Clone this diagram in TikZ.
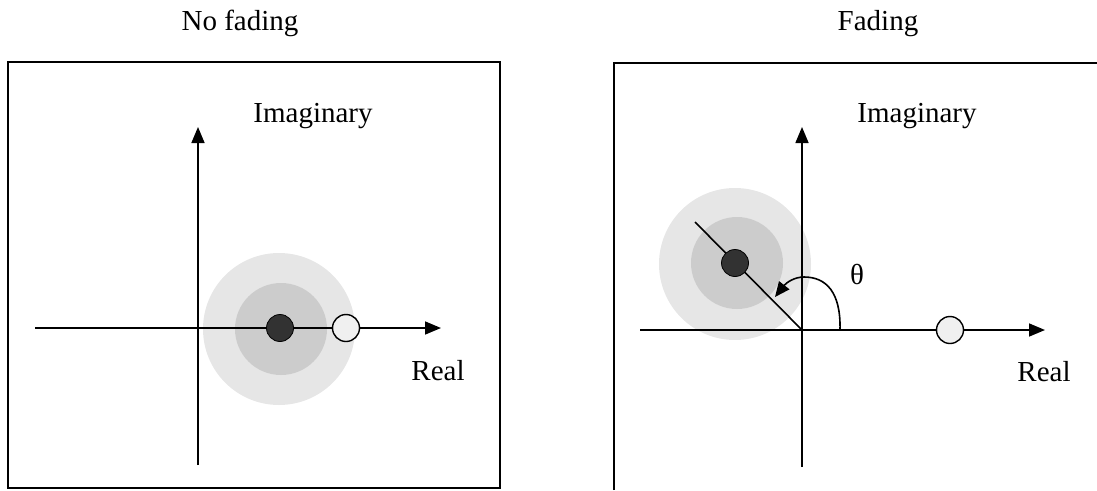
\documentclass[tikz,border=0pt]{standalone}
\usepackage{fontspec}
\setmainfont{Liberation Serif}
\usetikzlibrary{arrows.meta}
\definecolor{haloout}{RGB}{230,230,230}
\definecolor{haloin}{RGB}{204,204,204}
\definecolor{dotdark}{RGB}{50,50,50}
\definecolor{dotlight}{RGB}{240,240,240}
\tikzset{
  frameline/.style={line width=1.8pt, black},
  axis/.style={line width=1.6pt, black, -{Triangle[length=16pt,width=13pt]}},
  plainline/.style={line width=1.6pt, black},
  lbl/.style={font=\fontsize{29}{32}\selectfont, inner sep=0pt, anchor=base},
  darkdot/.style={circle, fill=dotdark, draw=black, line width=0.8pt, minimum size=27pt, inner sep=0pt},
  whitedot/.style={circle, fill=dotlight, draw=black, line width=1.4pt, minimum size=27pt, inner sep=0pt},
  haloA/.style={circle, fill=haloout, minimum size=152pt, inner sep=0pt},
  haloB/.style={circle, fill=haloin, minimum size=92pt, inner sep=0pt},
}
\begin{document}
\begin{tikzpicture}[x=1pt,y=-1pt]
\useasboundingbox (0,0) rectangle (1097,490);
% frames
\draw[frameline] (8,62) rectangle (500,488);
\draw[frameline] (614,490) -- (614,63) -- (1097,63);
% titles
\node[lbl] (t1) at (240,30) {No fading};
\node[lbl] (t2) at (878,30) {Fading};
% ---------- left panel ----------
\node[haloA] (hA1) at (279,329) {};
\node[haloB] (hB1) at (281,329) {};
\coordinate (o1) at (198,328);
\coordinate (xs1) at (35,328);
\coordinate (xe1) at (441,328);
\coordinate (ys1) at (198,465);
\coordinate (ye1) at (198,127);
\draw[axis] (xs1) -- (xe1);
\draw[axis] (ys1) -- (ye1);
\node[darkdot] (d1) at (280,328) {};
\node[whitedot] (w1) at (346,328) {};
\node[lbl] (im1) at (313,122) {Imaginary};
\node[lbl] (re1) at (438,380) {Real};
% ---------- right panel ----------
\node[haloA] (hA2) at (735,264) {};
\node[haloB] (hB2) at (737,263) {};
\coordinate (o2) at (802,330);
\coordinate (xs2) at (640,330);
\coordinate (xe2) at (1045,330);
\coordinate (ys2) at (802,467);
\coordinate (ye2) at (802,127);
\coordinate (ray) at (695,222);
\draw[axis] (xs2) -- (xe2);
\draw[axis] (ys2) -- (ye2);
\draw[plainline] (o2) -- (ray);
\node[darkdot] (d2) at (735,263) {};
\node[whitedot] (w2) at (950,330) {};
\coordinate (th0) at (840,330);
\coordinate (thtop) at (804,277);
\coordinate (th1) at (775,297);
\draw[line width=1.6pt, -{Triangle[length=15pt,width=13pt]}]
  (th0) .. controls (841,292) and (826,277) .. (thtop)
        .. controls (794,277) and (786,283) .. (th1);
\node[lbl] (theta) at (857,284) {θ};
\node[lbl] (im2) at (917,122) {Imaginary};
\node[lbl] (re2) at (1044,381) {Real};
\end{tikzpicture}
\end{document}
